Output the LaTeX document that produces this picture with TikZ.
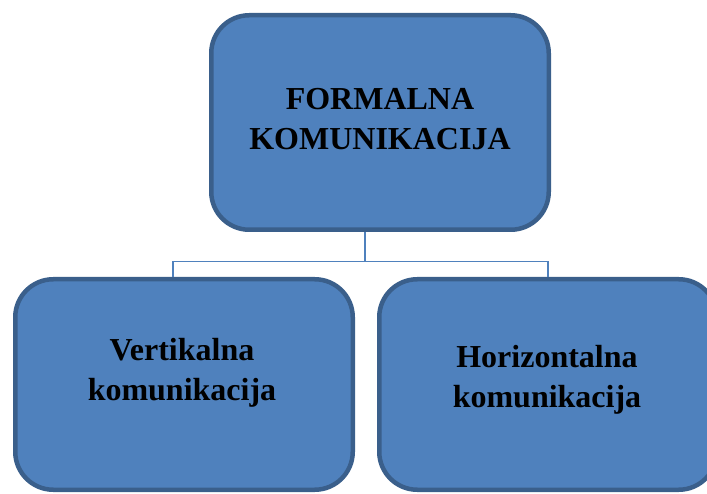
\documentclass[tikz,border=0pt]{standalone}
\usepackage{fontspec}
\setmainfont{Liberation Serif}
\definecolor{boxfill}{HTML}{4F81BD}
\definecolor{boxedge}{HTML}{3A5F8B}
\tikzset{
	box/.style={draw=boxedge, fill=boxfill, line width=4.5pt, rounded corners=38pt,
		minimum width=337.5pt, inner sep=0pt},
	boxtext/.style={align=center, font=\fontsize{32}{40}\selectfont\bfseries, inner sep=0pt},
	link/.style={draw=boxfill, line width=1.6pt}
}

\begin{document}
\begin{tikzpicture}[x=1pt, y=1pt]
		%%%%% START %%%%%
		\clip (0, 0) rectangle (707, 493);
		
		\node[box, minimum height=214.5pt] (formal) at (380, 370.5) {};
		\node[box, minimum height=210.5pt] (vert) at (184, 108.5) {};
		\node[box, minimum height=210.5pt] (horiz) at (548, 108.5) {};
		
		\node[boxtext] (formal-txt) at ([yshift=3pt]formal.center) {FORMALNA\\KOMUNIKACIJA};
		\node[boxtext] (vert-txt) at ([xshift=-2pt, yshift=12pt]vert.center) {Vertikalna\\komunikacija};
		\node[boxtext] (horiz-txt) at ([xshift=-1pt, yshift=5pt]horiz.center) {Horizontalna\\komunikacija};
		
		\draw[link] ([xshift=-15pt]formal.south) -- ++(0, -29.5) coordinate (fork);
		\draw[link] ([xshift=-11pt]vert.north) |- (fork) -| (horiz.north);
		
		%%%%% END %%%%%
	\end{tikzpicture}
\end{document}
